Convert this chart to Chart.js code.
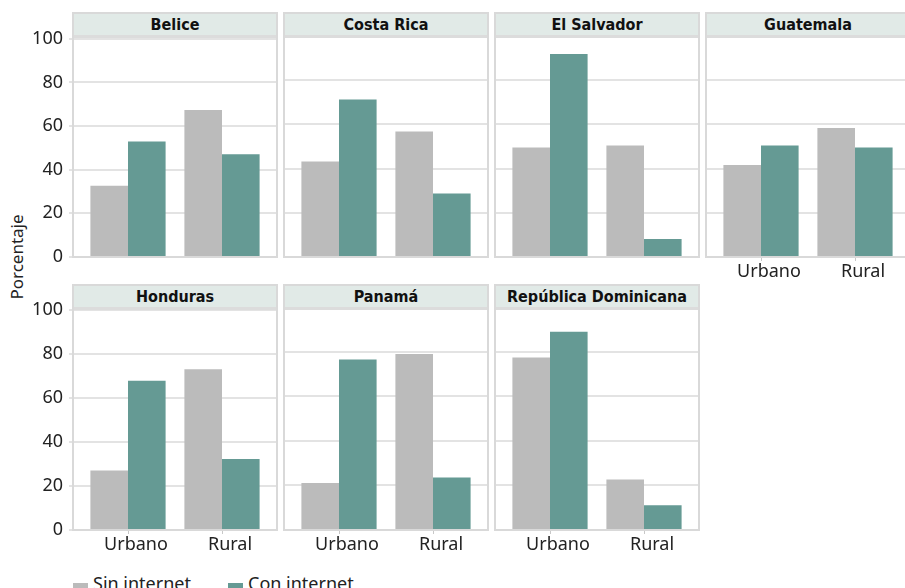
<!DOCTYPE html>
<html>
<head>
<meta charset="utf-8">
<script src="https://cdn.jsdelivr.net/npm/chart.js@4/dist/chart.umd.min.js"></script>
<style>
  html, body { margin: 0; padding: 0; background: #fff; }
  body { width: 905px; height: 588px; position: relative; overflow: hidden; font-family: "Noto Sans", Roboto, sans-serif; color: #222; }
  canvas { position: absolute; }
  .frame { position: absolute; box-sizing: border-box; border: 2px solid #d9d9d9; pointer-events: none; z-index: 5; }
  .head { position: absolute; left: 0; right: 0; top: 0; height: 21px; background: #e1eae7; border-bottom: 3px solid #dcdcdc;
          font-family: "DejaVu Sans Condensed", "DejaVu Sans", sans-serif; font-weight: bold; font-size: 16px; line-height: 22px;
          text-align: center; color: #111; }
  .ytitle { position: absolute; left: 16px; top: 257px; transform: translate(-50%, -50%) rotate(-90deg); font-size: 17px; white-space: nowrap; color: #222; }
  .sw { position: absolute; width: 15px; height: 15px; top: 583px; }
  .lt { position: absolute; top: 573px; font-size: 18px; line-height: 20px; white-space: nowrap; color: #222; }
</style>
</head>
<body>
<div class="ytitle">Porcentaje</div>
<script>
// Share of households (%) by area, with and without internet access
const categories = ['Urbano', 'Rural'];
const countries = ['Belice', 'Costa Rica', 'El Salvador', 'Guatemala', 'Honduras', 'Panamá', 'República Dominicana'];
const sinInternet = [
  [32.6, 67.4], [43.2, 56.8], [49.6, 50.4], [41.6, 58.4],
  [27.0, 73.0], [21.1, 78.9], [77.4, 22.6]
];
const conInternet = [
  [52.9, 47.1], [71.3, 28.7], [91.9, 8.1], [50.5, 49.5],
  [67.8, 32.2], [76.5, 23.5], [88.9, 11.1]
];
const seriesNames = ['Sin internet', 'Con internet'];
const yTicks = [0, 20, 40, 60, 80, 100];

const colors = ['#bbbbbb', '#659a94'];
const panelW = 206;
const colX = [72, 283, 494, 705];
const rows = [
  { head: 12, top: 36, bottom: 257 },
  { head: 284, top: 307, bottom: 530 }
];
const AXIS_W = 72, PAD_T = 14, X_H = 32;
// x positions: category 0 sits 56px into the panel, categories are 94px apart
const xMin = -56 / 94, xMax = xMin + panelW / 94;
const tickFont = { family: '"Noto Sans", Roboto, sans-serif', size: 18 };

// legend: swatch + label per series
const legendX = [[73, 93], [228, 248]];
seriesNames.forEach((n, i) => {
  const sw = document.createElement('div');
  sw.className = 'sw';
  sw.style.left = legendX[i][0] + 'px';
  sw.style.background = colors[i];
  document.body.appendChild(sw);
  const t = document.createElement('div');
  t.className = 'lt';
  t.style.left = legendX[i][1] + 'px';
  t.textContent = n;
  document.body.appendChild(t);
});

countries.forEach((name, idx) => {
  const r = idx < 4 ? 0 : 1;
  const c = idx < 4 ? idx : idx - 4;
  const row = rows[r];
  const left = colX[c];
  const showY = c === 0;
  const showX = r === 1 || idx === 3;

  const frame = document.createElement('div');
  frame.className = 'frame';
  frame.style.left = left + 'px';
  frame.style.top = row.head + 'px';
  frame.style.width = panelW + 'px';
  frame.style.height = (row.bottom - row.head + 1) + 'px';
  const head = document.createElement('div');
  head.className = 'head';
  head.textContent = name;
  frame.appendChild(head);
  document.body.appendChild(frame);

  const L = showY ? AXIS_W : 0;
  const cw = panelW + L;
  const ch = PAD_T + (row.bottom - row.top) + X_H;
  const cv = document.createElement('canvas');
  cv.style.left = (left - L) + 'px';
  cv.style.top = (row.top - PAD_T) + 'px';
  cv.style.width = cw + 'px';
  cv.style.height = ch + 'px';
  cv.width = cw; cv.height = ch;
  document.body.appendChild(cv);

  new Chart(cv, {
    type: 'bar',
    data: {
      datasets: seriesNames.map((s, k) => ({
        label: s,
        data: (k === 0 ? sinInternet : conInternet)[idx].map((v, j) => ({ x: j, y: v })),
        backgroundColor: colors[k],
        borderWidth: 0,
        barPercentage: 1,
        categoryPercentage: 0.8
      }))
    },
    options: {
      responsive: false,
      animation: false,
      devicePixelRatio: 1,
      layout: { padding: { top: PAD_T, left: 0, right: 0, bottom: 0 } },
      plugins: { legend: { display: false }, tooltip: { enabled: false }, title: { display: false } },
      scales: {
        x: {
          type: 'linear',
          min: xMin, max: xMax,
          offset: false,
          afterBuildTicks: s => { s.ticks = categories.map((_, j) => ({ value: j })); },
          afterFit: s => { s.height = X_H; },
          grid: { display: true, offset: false, drawOnChartArea: false, drawTicks: showX, tickLength: 4, color: '#c8c8c8' },
          border: { display: false },
          ticks: {
            display: showX, font: tickFont, color: '#222', padding: 0, labelOffset: 8,
            maxRotation: 0, autoSkip: false,
            callback: v => categories[v]
          }
        },
        y: {
          min: 0, max: 100,
          afterBuildTicks: s => { s.ticks = yTicks.map(v => ({ value: v })); },
          afterFit: s => { s.width = L; },
          grid: { color: '#e3e3e3', lineWidth: 2, drawTicks: showY, tickLength: 3 },
          border: { display: false },
          ticks: { display: showY, font: tickFont, color: '#222', padding: 6 }
        }
      }
    }
  });
});
</script>
</body>
</html>
